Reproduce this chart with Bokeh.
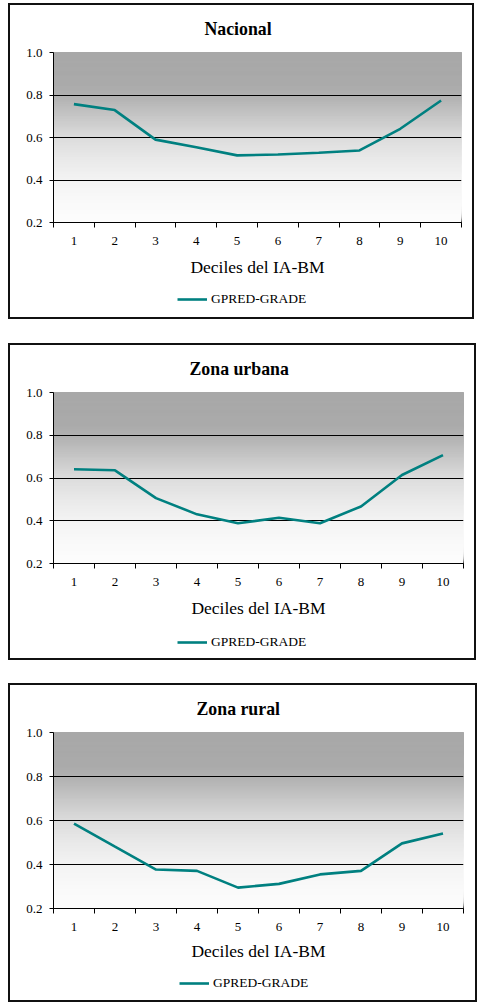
import numpy as np
from bokeh.plotting import figure
from bokeh.layouts import column
from bokeh.models import (Range1d, FixedTicker, NumeralTickFormatter, Legend, LegendItem)
from bokeh.embed import file_html
from bokeh.resources import INLINE

# ---- data ----
deciles = [1, 2, 3, 4, 5, 6, 7, 8, 9, 10]
decile_labels = ["1", "2", "3", "4", "5", "6", "7", "8", "9", "10"]
nacional = [0.757, 0.729, 0.590, 0.554, 0.516, 0.520, 0.528, 0.539, 0.641, 0.774]
urbana = [0.641, 0.636, 0.506, 0.430, 0.388, 0.414, 0.388, 0.467, 0.614, 0.707]
rural = [0.586, 0.481, 0.377, 0.371, 0.295, 0.312, 0.355, 0.371, 0.496, 0.541]
titles = ["Nacional", "Zona urbana", "Zona rural"]
y_ticks = [0.2, 0.4, 0.6, 0.8, 1.0]
series_name = "GPRED-GRADE"
x_title = "Deciles del IA-BM"

SERIF = "Liberation Serif"
TEAL = "#008080"

# gradient stops (value, gray level) for the plot-area background
grad_stops_v = [0.2, 0.3, 0.4, 0.5, 0.6, 0.7, 0.8, 0.85, 1.0]
grad_stops_g = [253, 249, 243, 233, 220, 198, 176, 170, 168]


def make_chart(title, values, W, H, frame_h, frame_w, title_x, tick_dy, label_st,
               leg_h, leg_x, leg_y, margin_top=0):
    left = 45
    top = 48
    ch = H - leg_h
    right = W - left - frame_w
    bottom = ch - top - frame_h
    p = figure(width=W, height=ch, output_backend="svg", toolbar_location=None,
               x_range=Range1d(0.5, 10.5), y_range=Range1d(0.2, 1.0),
               min_border_left=left, min_border_right=right,
               min_border_top=top, min_border_bottom=bottom,
               background_fill_color="white", border_fill_color=None,
               outline_line_color="black", outline_line_width=1)
    # title
    p.title.text = title
    p.title.align = "left"
    p.title.offset = title_x
    p.title.standoff = 27
    p.title.text_font = SERIF
    p.title.text_font_size = "17.8px"
    p.title.text_font_style = "bold"
    p.title.text_color = "black"

    # gradient background (stacked bands, each reaching the top)
    edges = np.linspace(0.2, 1.0, 161)
    mids = (edges[:-1] + edges[1:]) / 2
    g = np.interp(mids, grad_stops_v, grad_stops_g).round().astype(int)
    cols = ["#%02x%02x%02x" % (v, v, v) for v in g]
    p.quad(left=0.5, right=10.5, bottom=edges[:-1], top=1.0,
           fill_color=cols, line_color=None, level="image")

    # grid
    p.xgrid.visible = False
    p.ygrid.grid_line_color = "black"
    p.ygrid.grid_line_width = 1

    # x axis
    xa = p.xaxis[0]
    xa.ticker = FixedTicker(ticks=deciles, minor_ticks=[d + 0.5 for d in [0] + deciles])
    xa.major_label_overrides = {d: l for d, l in zip(deciles, decile_labels)}
    xa.major_tick_line_color = None
    xa.major_tick_out = 4
    xa.major_tick_in = 0
    xa.minor_tick_line_color = "black"
    xa.minor_tick_out = 5
    xa.minor_tick_in = 0
    xa.axis_line_color = "black"
    xa.major_label_standoff = tick_dy
    xa.major_label_text_font = SERIF
    xa.major_label_text_font_size = "13px"
    xa.major_label_text_color = "black"
    xa.axis_label = x_title
    xa.axis_label_text_font = SERIF
    xa.axis_label_text_font_size = "17.5px"
    xa.axis_label_text_font_style = "normal"
    xa.axis_label_text_color = "black"
    xa.axis_label_standoff = label_st

    # y axis
    ya = p.yaxis[0]
    ya.ticker = FixedTicker(ticks=y_ticks)
    ya.formatter = NumeralTickFormatter(format="0.0")
    ya.major_tick_out = 4
    ya.major_tick_in = 0
    ya.major_tick_line_color = "black"
    ya.minor_tick_line_color = None
    ya.axis_line_color = "black"
    ya.major_label_standoff = 7
    ya.major_label_text_font = SERIF
    ya.major_label_text_font_size = "13px"
    ya.major_label_text_color = "black"

    p.line(deciles, values, line_color=TEAL, line_width=2.6)

    # legend strip (bottom part of the chart box)
    pl = figure(width=W, height=leg_h, output_backend="svg", toolbar_location=None,
                x_axis_type=None, y_axis_type=None, title=None,
                x_range=Range1d(0.5, 10.5), y_range=Range1d(0.2, 1.0),
                min_border=0, outline_line_color=None,
                background_fill_color=None, border_fill_color=None)
    rl = pl.line(deciles, values, line_color=TEAL, line_width=2.6, visible=False)
    legend = Legend(items=[LegendItem(label=series_name, renderers=[rl])],
                    location=(leg_x, leg_y), orientation="horizontal",
                    border_line_color=None, background_fill_alpha=0,
                    padding=0, margin=0, spacing=0,
                    glyph_width=30, glyph_height=14, label_standoff=4,
                    label_text_font=SERIF, label_text_font_size="13.5px",
                    label_text_color="black", label_height=14)
    pl.add_layout(legend)

    box = column(p, pl, spacing=0,
                 styles={"outline": "2px solid #111", "outline-offset": "-2px",
                         "background-color": "white"},
                 margin=(margin_top, 0, 0, 0))
    return box


c1 = make_chart(titles[0], nacional, 466, 316, 171, 408, 151, 9, 9, 36, 124, 12)
c2 = make_chart(titles[1], urbana, 468, 317, 172, 410, 136, 9, 9, 34, 124, 10, margin_top=24)
c3 = make_chart(titles[2], rural, 469, 319, 177, 410, 143, 9, 7, 35, 126, 11, margin_top=23)

layout = column(c1, c2, c3, spacing=0, margin=(3, 0, 0, 8))

open("out.html", "w").write(file_html(layout, INLINE))
